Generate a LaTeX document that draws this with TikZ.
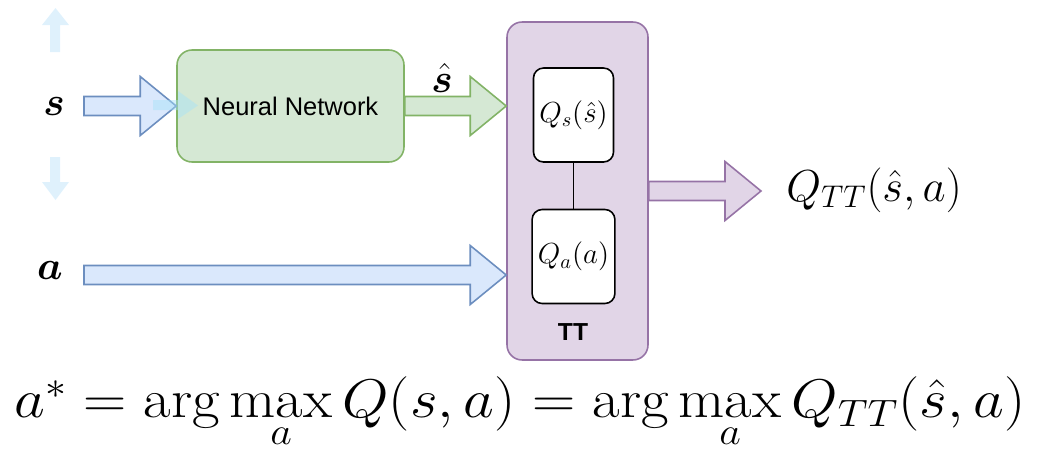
\documentclass[tikz,border=0pt]{standalone}
\usepackage{fix-cm}
\usepackage{fontspec}
\usepackage{amsmath,bm}
\usetikzlibrary{positioning,calc}
\newfontfamily\nnfont{Liberation Sans}

\definecolor{bluefill}{HTML}{DAE8FC}
\definecolor{blueline}{HTML}{6C8EBF}
\definecolor{greenfill}{HTML}{D5E8D4}
\definecolor{greenline}{HTML}{82B366}
\definecolor{purplefill}{HTML}{E1D5E7}
\definecolor{purpleline}{HTML}{9673A6}
\definecolor{faintblue}{HTML}{DFF1FC}

% fat block arrow from tail point to tip point (horizontal)
\newcommand{\fatarrow}[3][]{%
  \draw[line width=0.9pt,#1] let \p1=(#2), \p2=(#3) in
    (\x1,{\y1+0.19cm}) -- ({\x2-0.72cm},{\y1+0.19cm}) -- ({\x2-0.72cm},{\y1+0.59cm})
    -- (\x2,\y1) -- ({\x2-0.72cm},{\y1-0.59cm}) -- ({\x2-0.72cm},{\y1-0.19cm})
    -- (\x1,{\y1-0.19cm}) -- cycle;}

\begin{document}
\begin{tikzpicture}[
    x=0.02cm, y=-0.02cm, % pixel grid
    box/.style={draw=#1line, fill=#1fill, line width=0.9pt, rounded corners=0.3cm},
    qbox/.style={draw=black, fill=white, line width=0.9pt, rounded corners=0.2cm,
      minimum width=1.5cm, minimum height=1.88cm, font=\fontsize{16.5}{19}\selectfont},
    var/.style={font=\fontsize{23}{27}\selectfont}
]
\useasboundingbox (0,0) rectangle (1053,457);

% faint arrows round s
\fill[faintblue] (50,52) -- (50,25) -- (42,25) -- (55.5,8) -- (69,25) -- (60,25) -- (60,52) -- cycle;
\fill[faintblue] (50,157) -- (50,182) -- (42,182) -- (55.5,200) -- (69,182) -- (60,182) -- (60,157) -- cycle;

% Nodes
\node[box=green, minimum width=4.54cm, minimum height=2.24cm] (nn) at (290.5,106) {};
\node[font=\nnfont\fontsize{14.5}{17}\selectfont] (nnlabel) at (nn) {Neural Network};
\node[box=purple, minimum width=2.82cm, minimum height=6.76cm] (tt) at (577.5,191) {};
\node[qbox] (qs) at (573.5,115) {$Q_s(\hat{s})$};
\node[qbox] (qa) at (573.5,256.5) {$Q_a(a)$};
\node[font=\nnfont\bfseries\fontsize{14}{16}\selectfont] (ttlabel) at (573,332) {TT};

\node[var] (s) at (54,107) {$\bm{s}$};
\node[var] (a) at (50,271) {$\bm{a}$};
\node[var] (shat) at (442,78) {$\bm{\hat{s}}$};
\node[font=\fontsize{25.5}{30}\selectfont] (qtt) at (874,190) {$Q_{TT}(\hat{s},a)$};
\node[font=\fontsize{31}{36}\selectfont] (eq) at (520,413)
  {\scalebox{1.1}[1]{$a^* = \arg\max\limits_{a} Q(s,a) = \arg\max\limits_{a} Q_{TT}(\hat{s},a)$}};

\coordinate (s-tail) at (84,106);
\coordinate (a-tail) at (84,275);
\coordinate (out-tip) at (761,190);

% Edges
\draw[line width=0.9pt] (qs) -- (qa);
\fatarrow[draw=blueline, fill=bluefill]{s-tail}{nn.west}
\fill[cyan!35, opacity=0.45] (153,100) -- (178,100) -- (178,91) -- (198,105.5) -- (178,119) -- (178,110) -- (153,110) -- cycle;
\fatarrow[draw=greenline, fill=greenfill]{nn.east}{tt.west |- nn.east}
\fatarrow[draw=blueline, fill=bluefill]{a-tail}{a-tail -| tt.west}
\fatarrow[draw=purpleline, fill=purplefill]{tt.east}{out-tip}

\end{tikzpicture}
\end{document}
